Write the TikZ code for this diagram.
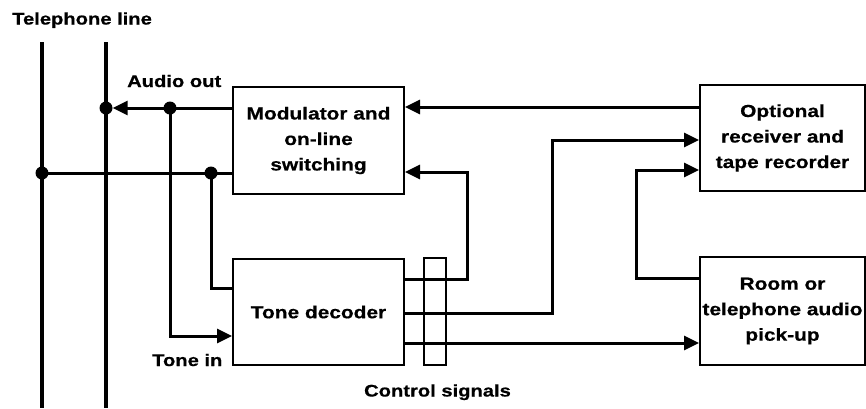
\documentclass[tikz,border=0pt]{standalone}
\usepackage{fontspec}
\setmainfont{Liberation Sans}[FakeStretch=1.2,BoldFeatures={FakeBold=0.6}]
\usetikzlibrary{arrows.meta}
\begin{document}
\begin{tikzpicture}[x=1pt,y=-1pt,
  box/.style={draw,line width=2pt,inner sep=0pt,align=center,
    font=\fontsize{17.4}{25.5}\selectfont\bfseries},
  lbl/.style={inner sep=0pt,font=\fontsize{16.8}{20}\selectfont\bfseries},
  conn/.style={line width=3pt,line join=miter},
  arr/.style={conn,-{Triangle[length=15pt,width=14pt]}},
  phone/.style={line width=4pt},
  dot/.style={circle,fill,inner sep=0pt,minimum size=13pt}]
\path[use as bounding box] (0,0) rectangle (866,408);

% boxes
\node[box,minimum width=171pt,minimum height=107pt] (mod) at (318.5,140.5) {Modulator and\\on-line\\switching};
\node[box,minimum width=171pt,minimum height=106pt] (dec) at (318.5,312) {Tone decoder};
\node[box,minimum width=165pt,minimum height=106pt] (opt) at (782.5,138) {Optional\\receiver and\\tape recorder};
\node[box,minimum width=165pt,minimum height=108pt] (room) at (782.5,311) {Room or\\telephone audio\\pick-up};
\node[draw,line width=1.5pt,inner sep=0pt,minimum width=22pt,minimum height=107pt] (col) at (435,311.5) {};

% telephone lines
\coordinate (t1a) at (42,42);
\coordinate (t1b) at (42,408);
\coordinate (t2a) at (106,42);
\coordinate (t2b) at (106,408);
\draw[phone] (t1a) -- (t1b);
\draw[phone] (t2a) -- (t2b);

% junction dots
\node[dot] (d1) at (106,108) {};
\node[dot] (d2) at (170,108) {};
\node[dot] (d3) at (42,173) {};
\node[dot] (d4) at (211,173) {};

% bend points
\coordinate (ti) at (170,336);
\coordinate (tc) at (211,288);
\coordinate (b1) at (467,279);
\coordinate (b1t) at (467,172);
\coordinate (b2) at (552,313);
\coordinate (b2t) at (552,140);
\coordinate (b3) at (560,343);
\coordinate (r1) at (636,278);
\coordinate (r1t) at (636,170);
\coordinate (top) at (560,107);

% connectors
\draw[arr] (mod.west |- d1) -- (d1);
\draw[conn] (d3.center) -- (mod.west |- d3);
\draw[arr] (d2.center) -- (ti) -- (dec.west |- ti);
\draw[conn] (d4.center) -- (tc) -- (dec.west |- tc);
\draw[arr] (opt.west |- top) -- (mod.east |- top);
\draw[arr] (dec.east |- b1) -- (b1) -- (b1t) -- (mod.east |- b1t);
\draw[arr] (dec.east |- b2) -- (b2) -- (b2t) -- (opt.west |- b2t);
\draw[arr] (dec.east |- b3) -- (room.west |- b3);
\draw[arr] (room.west |- r1) -- (r1) -- (r1t) -- (opt.west |- r1t);

% labels
\node[lbl,anchor=base west] (ltel) at (12,24.5) {Telephone line};
\node[lbl,anchor=base west] (laud) at (127,87) {Audio out};
\node[lbl,anchor=base west] (ltone) at (152,366) {Tone in};
\node[lbl,anchor=base] (lctl) at (437.5,396.5) {Control signals};
\end{tikzpicture}
\end{document}
